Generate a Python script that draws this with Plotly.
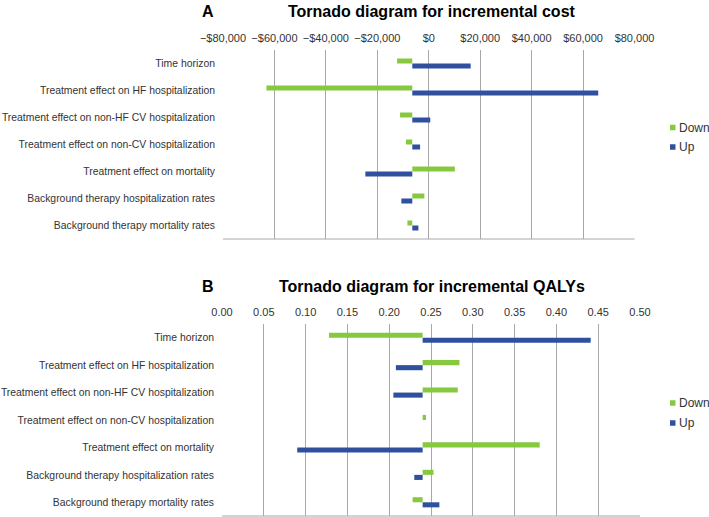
import plotly.graph_objects as go

categories = [
    "Time horizon",
    "Treatment effect on HF hospitalization",
    "Treatment effect on non-HF CV hospitalization",
    "Treatment effect on non-CV hospitalization",
    "Treatment effect on mortality",
    "Background therapy hospitalization rates",
    "Background therapy mortality rates",
]

# Panel A: incremental cost
cost_base = -6400
cost_down = [-12300, -63100, -11150, -8850, 10150, -1700, -8300]
cost_up = [16300, 65900, 600, -3370, -24650, -10650, -4030]
cost_tick_vals = [-80000, -60000, -40000, -20000, 0, 20000, 40000, 60000, 80000]
cost_tick_labels = ["\u2212$80,000", "\u2212$60,000", "\u2212$40,000", "\u2212$20,000", "$0",
                    "$20,000", "$40,000", "$60,000", "$80,000"]

# Panel B: incremental QALYs
qaly_base = 0.24
qaly_down = [0.128, 0.284, 0.282, 0.244, 0.380, 0.253, 0.228]
qaly_up = [0.441, 0.208, 0.205, 0.240, 0.090, 0.230, 0.260]
qaly_tick_vals = [0.00, 0.05, 0.10, 0.15, 0.20, 0.25, 0.30, 0.35, 0.40, 0.45, 0.50]
qaly_tick_labels = ["0.00", "0.05", "0.10", "0.15", "0.20", "0.25", "0.30", "0.35", "0.40", "0.45", "0.50"]

series_names = ["Down", "Up"]
GREEN = "#86C93F"
BLUE = "#2F4F9F"
GRID = "#A8A8A8"
TXT = "#333333"
FONT = "Liberation Sans, Arial, sans-serif"

W, H = 709, 517

fig = go.Figure()

def add_panel(base, down, up, xa, ya):
    for name, vals, col in [(series_names[0], down, GREEN), (series_names[1], up, BLUE)]:
        fig.add_trace(go.Bar(
            y=categories, x=[v - base for v in vals], base=base,
            orientation="h", name=name, marker=dict(color=col, line=dict(width=0)),
            xaxis=xa, yaxis=ya, showlegend=False,
            hovertemplate="%{y}: %{x}<extra>" + name + "</extra>",
        ))

add_panel(cost_base, cost_down, cost_up, "x", "y")
add_panel(qaly_base, qaly_down, qaly_up, "x2", "y2")

def px_x(p):
    return p / W

def px_y(p):
    return 1 - p / H

xcommon = dict(side="top", showgrid=True, gridcolor=GRID, gridwidth=1, zeroline=False,
               showline=False, ticks="", tickfont=dict(size=11, color=TXT, family=FONT),
               ticklabelstandoff=5, fixedrange=True, automargin=False)
ycommon = dict(autorange="reversed", showgrid=False, zeroline=False, showline=False, ticks="",
               tickfont=dict(size=10.4, color=TXT, family=FONT), ticklabelstandoff=7,
               type="category", automargin=False, fixedrange=True)

fig.update_layout(
    width=W, height=H,
    margin=dict(l=0, r=0, t=0, b=0, autoexpand=False),
    paper_bgcolor="white", plot_bgcolor="white",
    barmode="group", bargap=0.63, bargroupgap=0,
    font=dict(family=FONT, color=TXT),
    xaxis=dict(domain=[px_x(223), px_x(634.5)], range=[-80000, 80000],
               tickvals=cost_tick_vals, ticktext=cost_tick_labels, anchor="y", **xcommon),
    yaxis=dict(domain=[px_y(239), px_y(50)], anchor="x", **ycommon),
    xaxis2=dict(domain=[px_x(222), px_x(640)], range=[0, 0.5],
                tickvals=qaly_tick_vals, ticktext=qaly_tick_labels, anchor="y2", **xcommon),
    yaxis2=dict(domain=[px_y(516), px_y(324)], anchor="x2", **ycommon),
)

# bottom border lines of the plot areas
for xr, yr in [("x domain", "y domain"), ("x2 domain", "y2 domain")]:
    fig.add_shape(type="line", xref=xr, yref=yr, x0=0, x1=1, y0=0, y1=0,
                  line=dict(color=GRID, width=1))

# titles
titles = [("A", "Tornado diagram for incremental cost", 11),
          ("B", "Tornado diagram for incremental QALYs", 286)]
for letter, text, yc in titles:
    fig.add_annotation(text="<b>" + letter + "</b>", x=px_x(208), y=px_y(yc), xref="paper", yref="paper",
                       xanchor="center", yanchor="middle", showarrow=False,
                       font=dict(size=16, color="#000000", family=FONT))
    fig.add_annotation(text="<b>" + text + "</b>", x=px_x(432), y=px_y(yc), xref="paper", yref="paper",
                       xanchor="center", yanchor="middle", showarrow=False,
                       font=dict(size=16, color="#000000", family=FONT))

# legends (one per panel)
legend_rows = [(127.5, 147), (403, 423)]
for ydown, yup in legend_rows:
    for name, yc, col in [(series_names[0], ydown, GREEN), (series_names[1], yup, BLUE)]:
        fig.add_shape(type="rect", xref="paper", yref="paper",
                      x0=px_x(670), x1=px_x(675.5), y0=px_y(yc + 2.75), y1=px_y(yc - 2.75),
                      fillcolor=col, line=dict(width=0))
        fig.add_annotation(text=name, x=px_x(677), y=px_y(yc), xref="paper", yref="paper",
                           xanchor="left", yanchor="middle", showarrow=False,
                           font=dict(size=12, color=TXT, family=FONT))

fig.write_html("out.html", config={"displayModeBar": False},
               post_script="document.body.style.margin='0';document.body.style.overflow='hidden';")
